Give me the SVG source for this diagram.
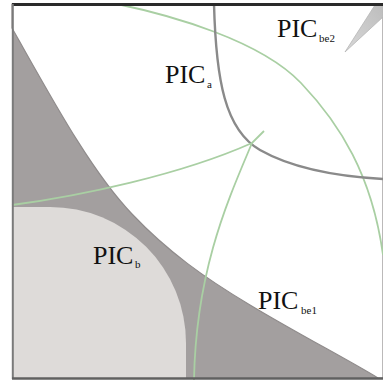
<svg xmlns="http://www.w3.org/2000/svg" width="383" height="381" viewBox="0 0 383 381">
<style>
.lbl{font-family:"Liberation Serif","DejaVu Serif",serif;font-size:26px;fill:#111}
.sub{font-family:"Liberation Serif","DejaVu Serif",serif;font-size:11px;fill:#111}
.green{fill:none;stroke:#a9cfa3;stroke-width:1.8}
.dark{fill:none;stroke:#8a8a8a;stroke-width:2.4}
</style>
<defs>
<linearGradient id="wedgeGrad" x1="1" y1="0" x2="0" y2="1">
<stop offset="0" stop-color="#bdbdbd"/>
<stop offset="1" stop-color="#d8d8d8"/>
</linearGradient>
</defs>
<rect width="383" height="381" fill="#ffffff"/>
<g id="regions">
<rect id="dark-region" x="12" y="4" width="371" height="374" fill="#a39f9f"/>
<path id="white-region" d="M12,28 C50,95 90,170 132,214 C168,252 205,278 250,305 C300,335 345,358 378,378 L383,378 L383,4 L12,4 Z" fill="#ffffff" stroke="#8f8b8b" stroke-width="1.2"/>
<path id="light-region" d="M12,207 L50,207 A136,136 0 0 1 186,343 L186,378 L12,378 Z" fill="#dedbd9"/>
<polygon id="wedge" points="345,52 375,5 383,5 383,17" fill="url(#wedgeGrad)" stroke="#b5b5b5" stroke-width="0.8"/>
</g>
<g id="connectors">
<path class="green" d="M117,4 C170,15 260,40 301,83 C340,124 372,175 383,255"/>
<path class="dark" d="M214,4 C216,80 225,130 260,150 C290,167 330,176 383,179"/>
<path class="green" d="M12,205 C80,196 180,175 252,143 L264,131"/>
<path class="green" d="M252,143 C228,200 196,270 194,380"/>
</g>
<g id="frame" fill="none">
<line x1="12" y1="4.5" x2="383" y2="4.5" stroke="#2a2a2a" stroke-width="3"/>
<line x1="12.8" y1="4" x2="12.8" y2="379" stroke="#7a7a7a" stroke-width="2"/>
<line x1="12" y1="378.5" x2="383" y2="378.5" stroke="#606060" stroke-width="2.5"/>
</g>
<g id="PIC_a">
<text class="lbl" x="165" y="83">PIC</text>
<text class="sub" x="207" y="88">a</text>
</g>
<g id="PIC_be2">
<text class="lbl" x="277" y="37">PIC</text>
<text class="sub" x="319" y="42">be2</text>
</g>
<g id="PIC_b">
<text class="lbl" x="93" y="264">PIC</text>
<text class="sub" x="135" y="268">b</text>
</g>
<g id="PIC_be1">
<text class="lbl" x="258" y="309">PIC</text>
<text class="sub" x="301" y="314">be1</text>
</g>
</svg>
